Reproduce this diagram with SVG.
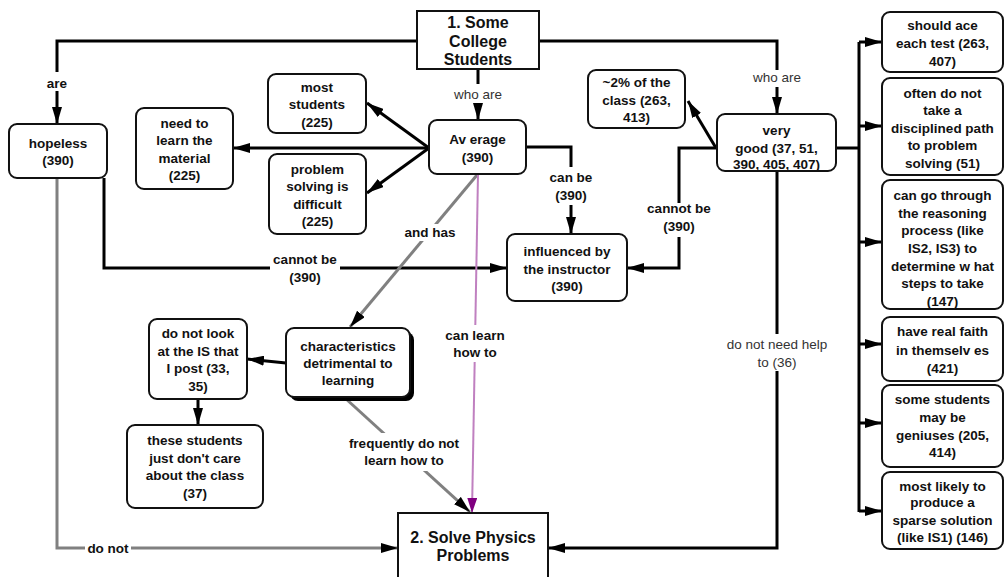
<svg xmlns="http://www.w3.org/2000/svg" width="1005" height="577" viewBox="0 0 1005 577">
  <style>
    .box { fill: #fff; stroke: #111; stroke-width: 2; }
    .t { font-family: "Liberation Sans", Arial, sans-serif; font-size: 13.5px; font-weight: bold; fill: #111; text-anchor: middle; }
    .big { font-family: "Liberation Sans", Arial, sans-serif; font-size: 16px; font-weight: bold; fill: #111; text-anchor: middle; }
    .n { font-family: "Liberation Sans", Arial, sans-serif; font-size: 13.5px; fill: #333; text-anchor: middle; }
    .c { fill: none; stroke: #000; stroke-width: 3; }
    .g { fill: none; stroke: #808080; stroke-width: 3; }
    .p { fill: none; stroke: #c080c0; stroke-width: 2; }
    .lb { fill: #fff; }
  </style>
  <defs>
    <marker id="ah" markerUnits="userSpaceOnUse" markerWidth="18" markerHeight="10" refX="17" refY="5" orient="auto">
      <path d="M0,0 L17,5 L0,10 z" fill="#000"/>
    </marker>
    <marker id="ahp" markerUnits="userSpaceOnUse" markerWidth="16" markerHeight="10" refX="15" refY="5" orient="auto">
      <path d="M0,0 L15,5 L0,10 z" fill="#800080"/>
    </marker>
  </defs>

  <rect width="1005" height="577" fill="#fff"/>

  <!-- connectors -->
  <g id="connectors">
    <path class="c" d="M417,41 H57 V124" marker-end="url(#ah)"/>
    <path class="c" d="M539,41 H777 V114" marker-end="url(#ah)"/>
    <path class="c" d="M478,69 V120" marker-end="url(#ah)"/>
    <path class="c" d="M429,148 H233" marker-end="url(#ah)"/>
    <path class="c" d="M429,148 L367,103" marker-end="url(#ah)"/>
    <path class="c" d="M429,148 L367,193" marker-end="url(#ah)"/>
    <path class="c" d="M526,147 H571 V234" marker-end="url(#ah)"/>
    <path class="c" d="M104,178 V268 H507" marker-end="url(#ah)"/>
    <path class="c" d="M717,148 H679 V268 H627" marker-end="url(#ah)"/>
    <path class="c" d="M716,148 L688,101" marker-end="url(#ah)"/>
    <path class="c" d="M777,171 V548 H548" marker-end="url(#ah)"/>
    <path class="g" d="M57,178 V548 H398" marker-end="url(#ah)"/>
    <path class="g" d="M477,175 L350,327" marker-end="url(#ah)"/>
    <path class="p" d="M478,174 L472,513" marker-end="url(#ahp)"/>
    <path class="g" d="M345,398 L470,512" marker-end="url(#ah)"/>
    <path class="c" d="M286,363 L247,359" marker-end="url(#ah)"/>
    <path class="c" d="M198,399 V425" marker-end="url(#ah)"/>
    <!-- trunk on the right -->
    <path class="c" d="M836,148 H859 M859,42 V512"/>
    <path class="c" d="M859,42 H882" marker-end="url(#ah)"/>
    <path class="c" d="M859,126 H882" marker-end="url(#ah)"/>
    <path class="c" d="M859,242 H882" marker-end="url(#ah)"/>
    <path class="c" d="M859,344 H882" marker-end="url(#ah)"/>
    <path class="c" d="M859,423 H882" marker-end="url(#ah)"/>
    <path class="c" d="M859,511 H882" marker-end="url(#ah)"/>

    <!-- connector labels -->
    <rect class="lb" x="46" y="72" width="22" height="19"/>
    <text class="t" x="57" y="88">are</text>
    <rect class="lb" x="754" y="70" width="46" height="17"/>
    <text class="n" x="777" y="82">who are</text>
    <rect class="lb" x="454" y="84" width="48" height="19"/>
    <text class="n" x="478" y="99">who are</text>
    <rect class="lb" x="548" y="167" width="46" height="38"/>
    <text class="t" x="571" y="182">can be</text>
    <text class="t" x="571" y="200">(390)</text>
    <rect class="lb" x="270" y="252" width="70" height="34"/>
    <text class="t" x="305" y="264">cannot be</text>
    <text class="t" x="305" y="282">(390)</text>
    <rect class="lb" x="645" y="203" width="68" height="34"/>
    <text class="t" x="679" y="213">cannot be</text>
    <text class="t" x="679" y="231">(390)</text>
    <rect class="lb" x="724" y="334" width="108" height="37"/>
    <text class="n" x="777" y="348.5">do not need help</text>
    <text class="n" x="777" y="366.5">to (36)</text>
    <rect class="lb" x="85" y="540" width="46" height="16"/>
    <text class="t" x="108" y="552.5">do not</text>
    <rect class="lb" x="403" y="224" width="54" height="17"/>
    <text class="t" x="430" y="236.5">and has</text>
    <rect class="lb" x="446" y="325" width="58" height="37"/>
    <text class="t" x="475" y="339.5">can learn</text>
    <text class="t" x="475" y="356.5">how to</text>
    <rect class="lb" x="346" y="433" width="116" height="38"/>
    <text class="t" x="404" y="447.5">frequently do not</text>
    <text class="t" x="404" y="464.5">learn how to</text>
  </g>

  <!-- nodes -->
  <g id="college-students">
    <rect class="box" x="417" y="11" width="122" height="58"/>
    <text class="big" x="478" y="28">1. Some</text>
    <text class="big" x="478" y="47">College</text>
    <text class="big" x="478" y="65">Students</text>
  </g>
  <g id="hopeless">
    <rect class="box" x="9" y="124" width="98" height="54" rx="8"/>
    <text class="t" x="58" y="147.5">hopeless</text>
    <text class="t" x="58" y="165">(390)</text>
  </g>
  <g id="need-to-learn">
    <rect class="box" x="136" y="108" width="97" height="81" rx="8"/>
    <text class="t" x="184.5" y="127.5">need to</text>
    <text class="t" x="184.5" y="145">learn the</text>
    <text class="t" x="184.5" y="162.5">material</text>
    <text class="t" x="184.5" y="180">(225)</text>
  </g>
  <g id="most-students">
    <rect class="box" x="268" y="74" width="98" height="59" rx="8"/>
    <text class="t" x="317" y="91.5">most</text>
    <text class="t" x="317" y="109">students</text>
    <text class="t" x="317" y="126.5">(225)</text>
  </g>
  <g id="problem-solving">
    <rect class="box" x="269" y="154" width="97" height="80" rx="8"/>
    <text class="t" x="317.5" y="173.5">problem</text>
    <text class="t" x="317.5" y="191">solving is</text>
    <text class="t" x="317.5" y="208.5">difficult</text>
    <text class="t" x="317.5" y="226">(225)</text>
  </g>
  <g id="average">
    <rect class="box" x="429" y="120" width="97" height="54" rx="8"/>
    <text class="t" x="477.5" y="144">Av erage</text>
    <text class="t" x="477.5" y="161.5">(390)</text>
  </g>
  <g id="two-percent">
    <rect class="box" x="588" y="70" width="97" height="58" rx="8"/>
    <text class="t" x="636.5" y="87">~2% of the</text>
    <text class="t" x="636.5" y="104.5">class (263,</text>
    <text class="t" x="636.5" y="122">413)</text>
  </g>
  <g id="very-good">
    <rect class="box" x="717" y="114" width="119" height="57" rx="8"/>
    <text class="t" x="776.5" y="135">very</text>
    <text class="t" x="776.5" y="152.5">good (37, 51,</text>
    <text class="t" x="776.5" y="169">390, 405, 407)</text>
  </g>
  <g id="influenced">
    <rect class="box" x="507" y="234" width="120" height="67" rx="8"/>
    <text class="t" x="567" y="256">influenced by</text>
    <text class="t" x="567" y="273.5">the instructor</text>
    <text class="t" x="567" y="291">(390)</text>
  </g>
  <g id="characteristics">
    <rect x="290" y="332" width="124" height="69" rx="8" fill="#000"/>
    <rect class="box" x="286" y="328" width="124" height="69" rx="8"/>
    <text class="t" x="348" y="351">characteristics</text>
    <text class="t" x="348" y="368">detrimental to</text>
    <text class="t" x="348" y="385">learning</text>
  </g>
  <g id="do-not-look">
    <rect class="box" x="149" y="319" width="98" height="80" rx="8"/>
    <text class="t" x="198" y="338">do not look</text>
    <text class="t" x="198" y="355.5">at the IS that</text>
    <text class="t" x="198" y="373">I post (33,</text>
    <text class="t" x="198" y="390.5">35)</text>
  </g>
  <g id="dont-care">
    <rect class="box" x="127" y="425" width="136" height="83" rx="8"/>
    <text class="t" x="195" y="445">these students</text>
    <text class="t" x="195" y="462.5">just don't care</text>
    <text class="t" x="195" y="480">about the class</text>
    <text class="t" x="195" y="497.5">(37)</text>
  </g>
  <g id="solve-physics">
    <rect class="box" x="398" y="513" width="150" height="80"/>
    <text class="big" x="473" y="543">2. Solve Physics</text>
    <text class="big" x="473" y="561">Problems</text>
  </g>
  <g id="ace-test">
    <rect class="box" x="882" y="12" width="121" height="60" rx="8"/>
    <text class="t" x="942.5" y="30">should ace</text>
    <text class="t" x="942.5" y="48">each test (263,</text>
    <text class="t" x="942.5" y="66">407)</text>
  </g>
  <g id="undisciplined">
    <rect class="box" x="882" y="78" width="121" height="97" rx="8"/>
    <text class="t" x="942.5" y="97.5">often do not</text>
    <text class="t" x="942.5" y="115">take a</text>
    <text class="t" x="942.5" y="132.5">disciplined path</text>
    <text class="t" x="942.5" y="150">to problem</text>
    <text class="t" x="942.5" y="168">solving (51)</text>
  </g>
  <g id="reasoning">
    <rect class="box" x="882" y="180" width="121" height="129" rx="8"/>
    <text class="t" x="942.5" y="200">can go through</text>
    <text class="t" x="942.5" y="217.7">the reasoning</text>
    <text class="t" x="942.5" y="235.3">process (like</text>
    <text class="t" x="942.5" y="253">IS2, IS3) to</text>
    <text class="t" x="942.5" y="270.7">determine w hat</text>
    <text class="t" x="942.5" y="288.3">steps to take</text>
    <text class="t" x="942.5" y="306">(147)</text>
  </g>
  <g id="faith">
    <rect class="box" x="882" y="317" width="121" height="64" rx="8"/>
    <text class="t" x="942.5" y="336">have real faith</text>
    <text class="t" x="942.5" y="354.5">in themselv es</text>
    <text class="t" x="942.5" y="372.5">(421)</text>
  </g>
  <g id="geniuses">
    <rect class="box" x="882" y="385" width="121" height="82" rx="8"/>
    <text class="t" x="942.5" y="404">some students</text>
    <text class="t" x="942.5" y="421.5">may be</text>
    <text class="t" x="942.5" y="439.5">geniuses (205,</text>
    <text class="t" x="942.5" y="457">414)</text>
  </g>
  <g id="sparse-solution">
    <rect class="box" x="882" y="472" width="121" height="77" rx="8"/>
    <text class="t" x="942.5" y="490.5">most likely to</text>
    <text class="t" x="942.5" y="507">produce a</text>
    <text class="t" x="942.5" y="524.5">sparse solution</text>
    <text class="t" x="942.5" y="542">(like IS1) (146)</text>
  </g>
</svg>
